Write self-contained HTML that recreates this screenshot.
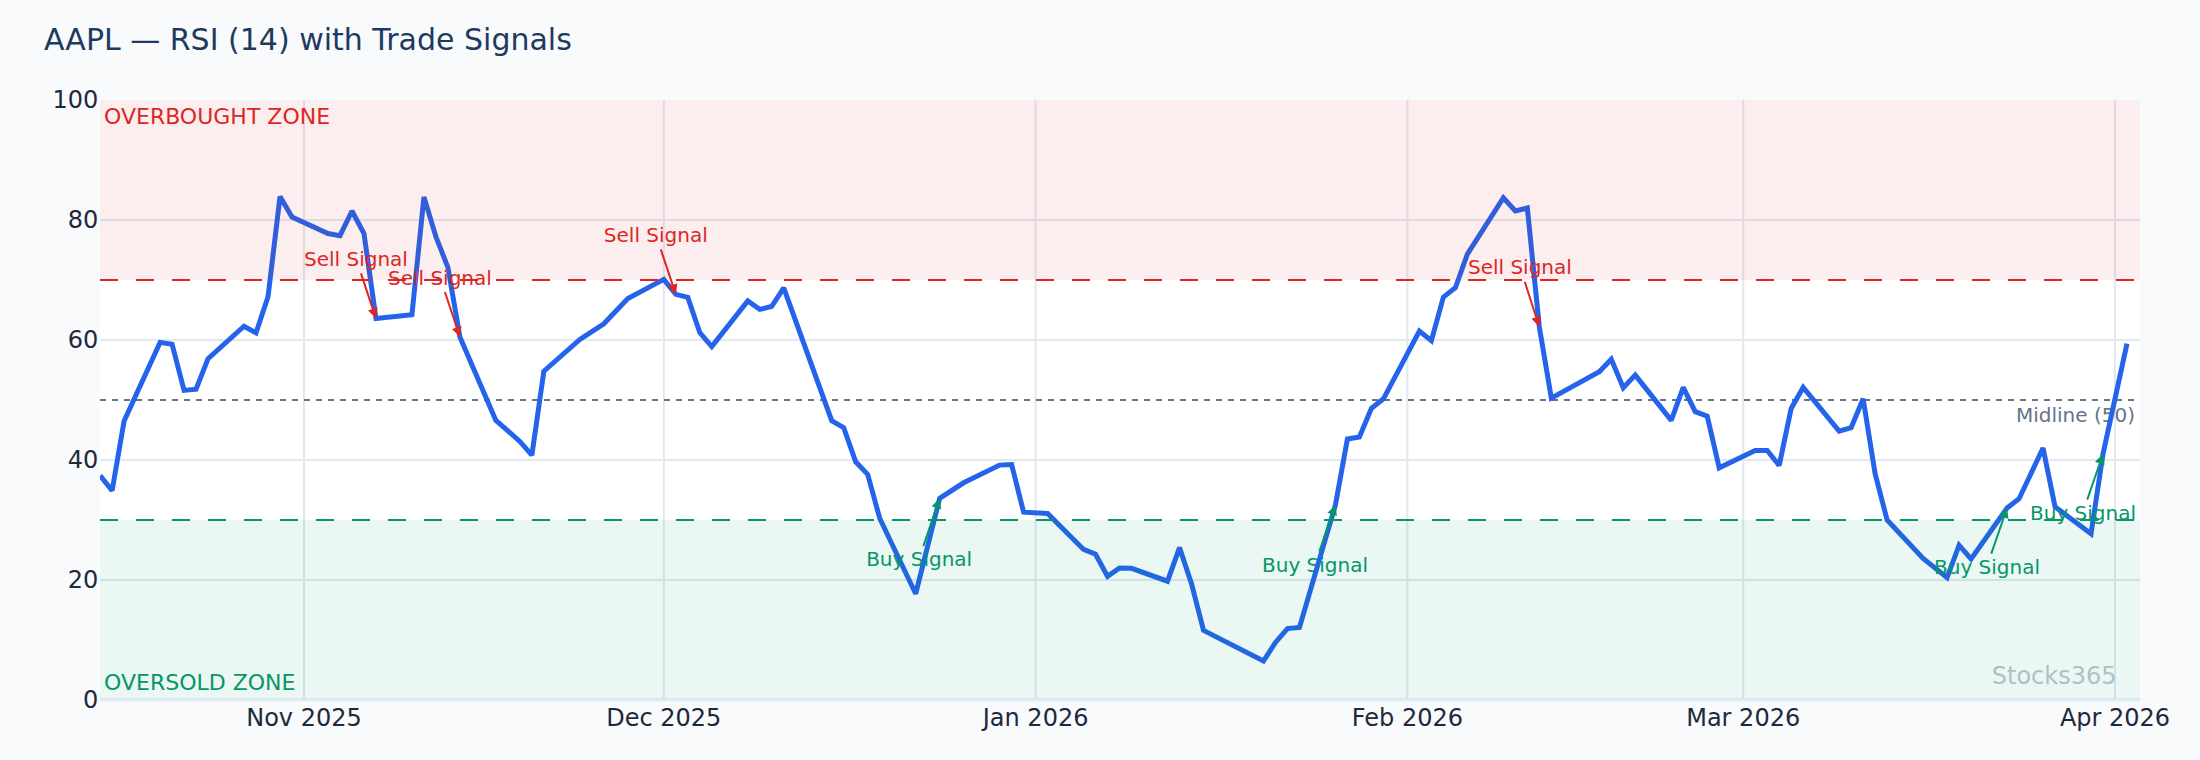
<!DOCTYPE html>
<html lang="en"><head><meta charset="utf-8"><title>AAPL — RSI (14) with Trade Signals</title>
<style>html,body{margin:0;padding:0;background:#f8fafc;}svg{display:block;}text{font-family:"DejaVu Sans", "Liberation Sans", sans-serif;}</style></head><body>
<svg width="2200" height="760" viewBox="0 0 2200 760">
<defs><clipPath id="plotclip"><rect x="100" y="100" width="2040" height="600"/></clipPath></defs>
<rect x="0" y="0" width="2200" height="760" fill="#f8fafc"/>
<rect x="100" y="100" width="2040" height="600" fill="#ffffff"/>
<g stroke="#e2e8f0" stroke-width="2" fill="none">
<line x1="304.00" y1="100" x2="304.00" y2="700"/>
<line x1="663.80" y1="100" x2="663.80" y2="700"/>
<line x1="1035.60" y1="100" x2="1035.60" y2="700"/>
<line x1="1407.39" y1="100" x2="1407.39" y2="700"/>
<line x1="1743.21" y1="100" x2="1743.21" y2="700"/>
<line x1="2115.00" y1="100" x2="2115.00" y2="700"/>
<line x1="100" y1="580" x2="2140" y2="580"/>
<line x1="100" y1="460" x2="2140" y2="460"/>
<line x1="100" y1="340" x2="2140" y2="340"/>
<line x1="100" y1="220" x2="2140" y2="220"/>
</g>
<line x1="100" y1="700" x2="2140" y2="700" stroke="#ebf0f8" stroke-width="4"/>
<line x1="100" y1="400" x2="2140" y2="400" stroke="#64748b" stroke-width="2" stroke-dasharray="6,6"/>
<text x="2135" y="422" font-size="20" fill="#64748b" text-anchor="end">Midline (50)</text>
<text x="1315.03" y="571.50" font-size="20" fill="#059669" text-anchor="middle">Buy Signal</text>
<polyline clip-path="url(#plotclip)" points="100.11,475.60 112.11,490.60 124.10,421.00 160.08,342.40 172.07,344.20 184.07,390.40 196.06,389.20 208.05,358.60 244.03,326.20 256.03,332.80 268.02,296.80 280.01,196.60 292.01,217.00 327.99,233.50 339.98,235.60 351.97,211.00 363.97,233.50 375.96,318.40 411.94,314.80 423.93,196.90 435.93,236.80 447.92,267.40 459.91,337.00 495.89,420.40 507.89,430.90 519.88,441.40 531.87,455.20 543.87,371.20 579.85,339.40 591.84,331.60 603.84,323.80 627.82,298.60 663.80,279.40 675.80,294.40 687.79,297.40 699.78,332.50 711.78,346.60 747.76,301.00 759.75,309.40 771.74,306.40 783.74,287.80 831.71,420.70 843.70,427.60 855.70,461.80 867.69,474.40 879.68,518.20 915.66,593.80 939.65,498.40 963.64,482.80 999.62,465.10 1011.61,464.50 1023.60,512.20 1047.59,513.40 1083.57,549.40 1095.56,554.20 1107.56,576.40 1119.55,568.00 1131.54,568.30 1167.52,581.20 1179.52,547.60 1191.51,583.60 1203.51,630.40 1263.47,661.00 1275.47,642.40 1287.46,628.60 1299.45,627.40 1335.43,505.00 1347.43,439.00 1359.42,436.90 1371.41,408.40 1383.41,398.80 1419.39,331.00 1431.38,340.60 1443.37,297.10 1455.37,287.80 1467.36,254.20 1503.34,197.80 1515.33,211.00 1527.33,208.00 1539.32,326.80 1551.31,398.20 1599.29,371.80 1611.28,359.20 1623.27,387.70 1635.27,375.10 1671.25,420.40 1683.24,387.40 1695.23,411.70 1707.23,416.20 1719.22,467.80 1755.20,450.40 1767.19,450.40 1779.19,465.40 1791.18,408.40 1803.17,387.40 1839.16,431.20 1851.15,427.60 1863.14,398.80 1875.14,473.80 1887.13,520.00 1923.11,558.40 1947.10,577.60 1959.09,545.20 1971.08,559.00 2007.06,508.00 2019.06,498.70 2043.04,448.00 2055.04,506.80 2091.02,533.80 2103.01,454.00 2127.00,343.60" fill="none" stroke="#2563eb" stroke-width="5" stroke-linejoin="miter" stroke-miterlimit="2" stroke-linecap="butt"/>
<text x="2116.5" y="684" font-size="24" fill="#94a3b8" fill-opacity="0.65" text-anchor="end">Stocks365</text>
<rect x="100" y="100" width="2040" height="180" fill="#dc2626" fill-opacity="0.08"/>
<rect x="100" y="520" width="2040" height="180" fill="#059669" fill-opacity="0.08"/>
<line x1="100" y1="280" x2="2140" y2="280" stroke="#dc2626" stroke-width="2" stroke-dasharray="18,18"/>
<line x1="100" y1="520" x2="2140" y2="520" stroke="#059669" stroke-width="2" stroke-dasharray="18,18"/>
<text x="104" y="123.5" font-size="22" fill="#dc2626">OVERBOUGHT ZONE</text>
<text x="104" y="689.7" font-size="22" fill="#059669">OVERSOLD ZONE</text>
<text x="355.96" y="265.90" font-size="20" fill="#dc2626" text-anchor="middle">Sell Signal</text>
<line x1="360.96" y1="273.40" x2="373.11" y2="309.86" stroke="#dc2626" stroke-width="2"/>
<polygon points="375.96,318.40 368.05,310.49 377.54,307.33" fill="#dc2626"/>
<text x="439.91" y="284.50" font-size="20" fill="#dc2626" text-anchor="middle">Sell Signal</text>
<line x1="444.91" y1="292.00" x2="457.07" y2="328.46" stroke="#dc2626" stroke-width="2"/>
<polygon points="459.91,337.00 452.01,329.09 461.50,325.93" fill="#dc2626"/>
<text x="655.80" y="241.90" font-size="20" fill="#dc2626" text-anchor="middle">Sell Signal</text>
<line x1="660.80" y1="249.40" x2="672.95" y2="285.86" stroke="#dc2626" stroke-width="2"/>
<polygon points="675.80,294.40 667.89,286.49 677.38,283.33" fill="#dc2626"/>
<text x="1519.92" y="274.30" font-size="20" fill="#dc2626" text-anchor="middle">Sell Signal</text>
<line x1="1524.77" y1="281.80" x2="1536.55" y2="318.24" stroke="#dc2626" stroke-width="2"/>
<polygon points="1539.32,326.80 1531.49,318.82 1541.00,315.75" fill="#dc2626"/>
<text x="919.15" y="565.90" font-size="20" fill="#059669" text-anchor="middle">Buy Signal</text>
<line x1="923.35" y1="546.10" x2="936.74" y2="506.92" stroke="#059669" stroke-width="2"/>
<polygon points="939.65,498.40 941.15,509.48 931.69,506.25" fill="#059669"/>
<line x1="1319.29" y1="551.70" x2="1332.49" y2="513.51" stroke="#059669" stroke-width="2"/>
<polygon points="1335.43,505.00 1336.89,516.08 1327.44,512.82" fill="#059669"/>
<text x="1987.06" y="573.50" font-size="20" fill="#059669" text-anchor="middle">Buy Signal</text>
<line x1="1991.30" y1="553.70" x2="2004.13" y2="516.51" stroke="#059669" stroke-width="2"/>
<polygon points="2007.06,508.00 2008.53,519.08 1999.08,515.82" fill="#059669"/>
<text x="2083.01" y="519.50" font-size="20" fill="#059669" text-anchor="middle">Buy Signal</text>
<line x1="2087.25" y1="499.70" x2="2100.08" y2="462.51" stroke="#059669" stroke-width="2"/>
<polygon points="2103.01,454.00 2104.48,465.08 2095.02,461.82" fill="#059669"/>
<g font-size="24" fill="#1e293b" text-anchor="end">
<text x="98.2" y="708.4">0</text>
<text x="98.2" y="588.4">20</text>
<text x="98.2" y="468.4">40</text>
<text x="98.2" y="348.4">60</text>
<text x="98.2" y="228.4">80</text>
<text x="98.2" y="108.4">100</text>
</g>
<g font-size="24" fill="#1e293b" text-anchor="middle">
<text x="304.00" y="725.5">Nov 2025</text>
<text x="663.80" y="725.5">Dec 2025</text>
<text x="1035.60" y="725.5">Jan 2026</text>
<text x="1407.39" y="725.5">Feb 2026</text>
<text x="1743.21" y="725.5">Mar 2026</text>
<text x="2115.00" y="725.5">Apr 2026</text>
</g>
<text x="44" y="50.2" font-size="30" fill="#1e3a5f">AAPL — RSI (14) with Trade Signals</text>
</svg></body></html>
